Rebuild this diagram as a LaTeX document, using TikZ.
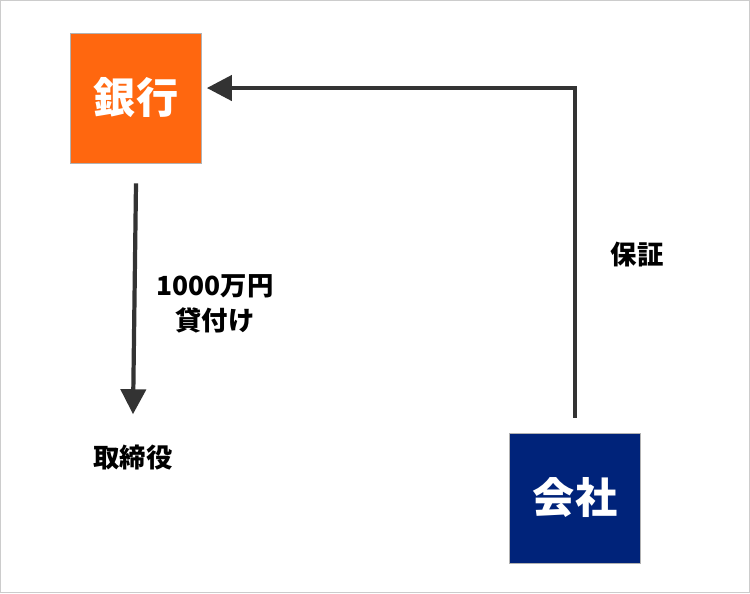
\documentclass[tikz,border=0pt]{standalone}
\usepackage{fontspec}
\setmainfont{Noto Sans CJK JP}
\usetikzlibrary{positioning, arrows.meta}
\definecolor{bankorange}{HTML}{FF670F}
\definecolor{companyblue}{HTML}{00237A}
\definecolor{linegray}{HTML}{333333}
\begin{document}
\begin{tikzpicture}[x=0.02cm, y=-0.02cm, >={Triangle[length=0.5cm, width=0.5cm]}]
	\tikzset{
		block/.style={draw=gray!60, minimum width=2.62cm, minimum height=2.6cm, text=white, font=\fontsize{24}{28}\selectfont\bfseries},
		label/.style={font=\fontsize{15}{20}\selectfont\bfseries, align=center},
		link/.style={->, draw=linegray, line width=2.4pt}
	}
	% Frame
	\draw[gray!40, fill=white] (0.5,0.5) rectangle (749.5,592.5);
	\useasboundingbox (0,0) rectangle (750,593);
	
	% Define nodes
	\node [block, fill=bankorange] (bank) at (136,98) {銀行};
	\node [block, fill=companyblue] (company) at (575,498) {会社};
	\node [label] (director) at (133,458) {取締役};
	\node [label] (loan) at (215,304) {1000万円\\貸付け};
	\node [label] (guarantee) at (637,255) {保証};
	\coordinate (corner) at (575,88);
	
	% Arrows
	\draw[link] ([yshift=-0.4cm]bank.south) -- ([yshift=0.5cm]director.north);
	\draw[link] ([yshift=0.3cm]company.north) -- (corner) -- ([xshift=0.1cm]bank.east |- corner);
\end{tikzpicture}
\end{document}
